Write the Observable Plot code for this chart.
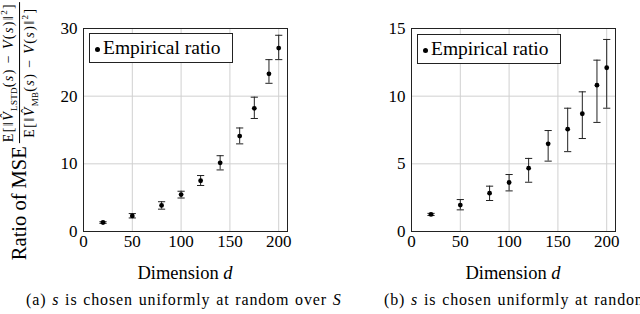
<!DOCTYPE html>
<html>
<head>
<meta charset="utf-8">
<script src="https://cdn.jsdelivr.net/npm/d3@7"></script>
<script src="https://cdn.jsdelivr.net/npm/@observablehq/plot@0.6"></script>
<style>
  html, body { margin: 0; padding: 0; background: white; }
  body { width: 640px; height: 314px; overflow: hidden; position: relative; font-family: "Liberation Serif", serif; color: black; }
  .panel { position: absolute; top: 0; }
  .panel text { font-family: "Liberation Serif", serif !important; font-size: 17px !important; fill: black; }
  .legend { position: absolute; box-sizing: border-box; border: 1px solid #222; background: white; height: 30px; width: 144px; font-size: 19.5px; line-height: 28px; white-space: nowrap; font-family: "Liberation Serif", serif; }
  .legend .dot { position: absolute; left: 5px; top: 13px; width: 5px; height: 5px; border-radius: 50%; background: black; }
  .legend .txt { position: absolute; left: 13px; top: 0; }
  .xlab { position: absolute; font-size: 18.5px; white-space: nowrap; transform: translate(-50%, -50%); font-family: "Liberation Serif", serif; }
  .cap { position: absolute; font-size: 16px; letter-spacing: 0.85px; word-spacing: 1px; white-space: nowrap; font-family: "Liberation Serif", serif; }
  #ylab { position: absolute; left: 20px; top: 131px; transform: translate(-50%, -50%) rotate(-90deg); white-space: nowrap; display: flex; align-items: center; font-family: "Liberation Serif", serif; }
  #ylab .main { font-size: 20.5px; margin-right: 3px; }
  .frac { display: inline-flex; flex-direction: column; align-items: center; font-size: 14px; letter-spacing: 1.4px; line-height: 1.0; }
  .frac .num { border-bottom: 1px solid black; padding: 0 1px 1px 1px; }
  .frac .den { padding: 1px 1px 0 1px; }
  .frac sub { font-size: 9px; letter-spacing: 0.3px; }
  .frac sup { font-size: 9px; }
</style>
</head>
<body>
<script>
// ---- data ----
const dims = [20, 50, 80, 100, 120, 140, 160, 175, 190, 200];
// (a) s chosen uniformly at random over S
const meanA = [1.33, 2.3, 3.85, 5.46, 7.5, 10.15, 14.1, 18.2, 23.3, 27.1];
const loA   = [1.2, 2.0, 3.3, 4.95, 6.8, 9.1, 12.95, 16.7, 21.9, 25.4];
const hiA   = [1.45, 2.65, 4.4, 5.95, 8.27, 11.2, 15.3, 19.85, 25.4, 29.0];
// (b)
const meanB = [1.26, 1.95, 2.83, 3.62, 4.68, 6.48, 7.56, 8.7, 10.81, 12.1];
const loB   = [1.18, 1.6, 2.29, 3.0, 3.64, 5.2, 5.9, 6.87, 8.06, 9.11];
const hiB   = [1.34, 2.36, 3.35, 4.21, 5.4, 7.46, 9.11, 10.32, 12.66, 14.19];

const xTicks = [0, 50, 100, 150, 200];
const yTicksA = [0, 10, 20, 30];
const yTicksB = [0, 5, 10, 15];

const capSymbol = {
  draw(ctx, size) {
    const r = Math.sqrt(size / Math.PI);
    ctx.moveTo(-r, 0);
    ctx.lineTo(r, 0);
  }
};

function panel(mean, lo, hi, yMax, yTicks, marginLeft, marginRight) {
  const data = dims.map((d, i) => ({x: d, y: mean[i], lo: lo[i], hi: hi[i]}));
  return Plot.plot({
    width: 320,
    height: 256,
    marginLeft, marginRight,
    marginTop: 28,
    marginBottom: 25,
    style: {fontFamily: "Liberation Serif", fontSize: "17px", color: "black", background: "transparent", overflow: "visible"},
    x: {domain: [0, 209]},
    y: {domain: [0, yMax]},
    marks: [
      Plot.gridX(xTicks.slice(1), {stroke: "#d0d0d0", strokeOpacity: 1, strokeWidth: 1}),
      Plot.gridY(yTicks.slice(1), {stroke: "#d0d0d0", strokeOpacity: 1, strokeWidth: 1}),
      Plot.axisX({ticks: xTicks, tickSize: 0, tickPadding: 3, label: null, fontSize: 17}),
      Plot.axisY({ticks: yTicks, tickSize: 0, tickPadding: 6, label: null, fontSize: 17}),
      Plot.ruleX(data, {x: "x", y1: "lo", y2: "hi", stroke: "#222", strokeWidth: 1}),
      Plot.dot(data, {x: "x", y: "lo", symbol: capSymbol, r: 3.6, stroke: "#222", fill: "none", strokeWidth: 1}),
      Plot.dot(data, {x: "x", y: "hi", symbol: capSymbol, r: 3.6, stroke: "#222", fill: "none", strokeWidth: 1}),
      Plot.dot(data, {x: "x", y: "y", r: 2.4, fill: "black", stroke: "none"}),
      Plot.frame({stroke: "#222", strokeWidth: 1})
    ]
  });
}

const a = panel(meanA, loA, hiA, 30, yTicksA, 83, 33);
a.classList.add("panel"); a.style.left = "0px";
document.body.appendChild(a);
const b = panel(meanB, loB, hiB, 15, yTicksB, 91, 25);
b.classList.add("panel"); b.style.left = "320px";
document.body.appendChild(b);

function addHTML(html) {
  const t = document.createElement("template");
  t.innerHTML = html.trim();
  document.body.appendChild(t.content.firstChild);
}
addHTML('<div class="legend" style="left:89px;top:33px"><span class="dot"></span><span class="txt">Empirical ratio</span></div>');
addHTML('<div class="legend" style="left:417px;top:34px"><span class="dot"></span><span class="txt">Empirical ratio</span></div>');
addHTML('<div class="xlab" style="left:185px;top:273px">Dimension <i>d</i></div>');
addHTML('<div class="xlab" style="left:513px;top:273px">Dimension <i>d</i></div>');
addHTML('<div class="cap" style="left:26px;top:291px">(a) <i>s</i> is chosen uniformly at random over <i>S</i></div>');
addHTML('<div class="cap" style="left:384px;top:291px">(b) <i>s</i> is chosen uniformly at random over <i>S</i></div>');
addHTML('<div id="ylab"><span class="main">Ratio of MSE</span><span class="frac"><span class="num">E[‖<i>V̂</i><sub>LSTD</sub>(<i>s</i>) − <i>V</i>(<i>s</i>)‖<sup>2</sup>]</span><span class="den">E[‖<i>V̂</i><sub>MB</sub>(<i>s</i>) − <i>V</i>(<i>s</i>)‖<sup>2</sup>]</span></span></div>');
</script>
</body>
</html>
